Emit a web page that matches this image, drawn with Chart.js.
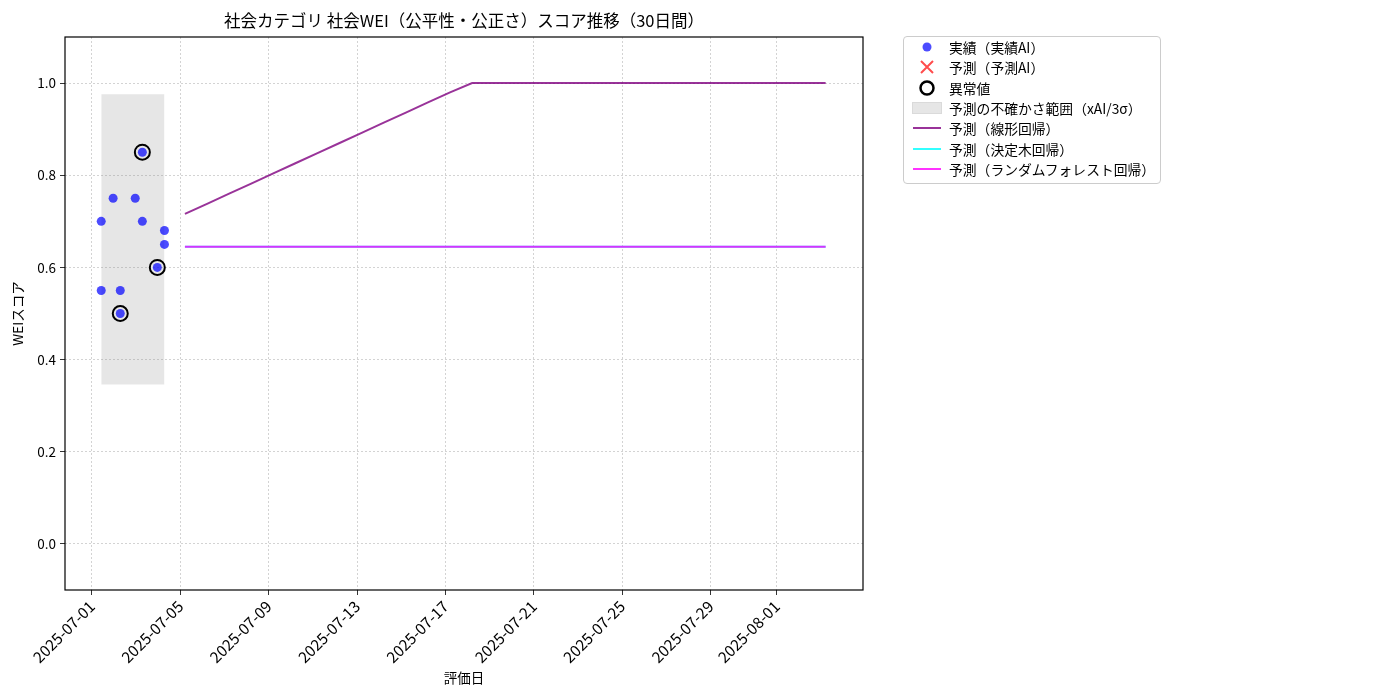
<!DOCTYPE html>
<html>
<head>
<meta charset="utf-8">
<script src="https://cdn.jsdelivr.net/npm/chart.js@4.4.1/dist/chart.umd.min.js"></script>
<style>
  body { margin: 0; background: #fff; font-family: 'Noto Sans CJK JP', 'DejaVu Sans', sans-serif; }
  #wrap { position: relative; width: 1400px; height: 700px; }
  #legend { position: absolute; left: 903px; top: 36px; width: 256px; border: 1px solid #cccccc; border-radius: 4px;
            background: #fff; padding: 0 0 4px 0; font-size: 13.8px; color: #000; }
  .row { display: flex; align-items: center; height: 20.3px; }
  .mk { width: 45px; display: flex; justify-content: center; align-items: center; }
</style>
</head>
<body>
<div id="wrap">
  <canvas id="weiChart" width="1400" height="700"></canvas>
  <div id="legend"></div>
</div>
<script>
// --- data ---
const chartTitle = '社会カテゴリ 社会WEI（公平性・公正さ）スコア推移（30日間）';

const actualDates = ['2025-07-01T10:05', '2025-07-01T10:05', '2025-07-01T23:00', '2025-07-02T06:45', '2025-07-02T06:45',
                     '2025-07-02T23:00', '2025-07-03T06:45', '2025-07-03T06:45', '2025-07-03T23:00', '2025-07-04T06:45', '2025-07-04T06:45'];
const actualVals  = [0.70, 0.55, 0.75, 0.55, 0.50, 0.75, 0.85, 0.70, 0.60, 0.68, 0.65];

const anomalyDates = ['2025-07-02T06:45', '2025-07-03T06:45', '2025-07-03T23:00'];
const anomalyVals  = [0.50, 0.85, 0.60];

const bandDates = ['2025-07-01T10:05', '2025-07-04T06:45'];
const bandUpper = [0.976, 0.976];
const bandLower = [0.346, 0.346];

const forecastDates = ['2025-07-05T05:00', '2025-07-06T05:00', '2025-07-07T05:00', '2025-07-08T05:00', '2025-07-09T05:00',
  '2025-07-10T05:00', '2025-07-11T05:00', '2025-07-12T05:00', '2025-07-13T05:00', '2025-07-14T05:00',
  '2025-07-15T05:00', '2025-07-16T05:00', '2025-07-17T05:00', '2025-07-18T05:00', '2025-07-19T05:00',
  '2025-07-20T05:00', '2025-07-21T05:00', '2025-07-22T05:00', '2025-07-23T05:00', '2025-07-24T05:00',
  '2025-07-25T05:00', '2025-07-26T05:00', '2025-07-27T05:00', '2025-07-28T05:00', '2025-07-29T05:00',
  '2025-07-30T05:00', '2025-07-31T05:00', '2025-08-01T05:00', '2025-08-02T05:00', '2025-08-03T05:00'];
const linearVals = [0.716, 0.738, 0.760, 0.782, 0.804, 0.826, 0.848, 0.870, 0.892, 0.914,
  0.936, 0.958, 0.980, 1.0, 1.0, 1.0, 1.0, 1.0, 1.0, 1.0,
  1.0, 1.0, 1.0, 1.0, 1.0, 1.0, 1.0, 1.0, 1.0, 1.0];
const treeVals = [0.645, 0.645, 0.645, 0.645, 0.645, 0.645, 0.645, 0.645, 0.645, 0.645,
  0.645, 0.645, 0.645, 0.645, 0.645, 0.645, 0.645, 0.645, 0.645, 0.645,
  0.645, 0.645, 0.645, 0.645, 0.645, 0.645, 0.645, 0.645, 0.645, 0.645];
const forestVals = [0.645, 0.645, 0.645, 0.645, 0.645, 0.645, 0.645, 0.645, 0.645, 0.645,
  0.645, 0.645, 0.645, 0.645, 0.645, 0.645, 0.645, 0.645, 0.645, 0.645,
  0.645, 0.645, 0.645, 0.645, 0.645, 0.645, 0.645, 0.645, 0.645, 0.645];

const xTickDates = ['2025-07-01', '2025-07-05', '2025-07-09', '2025-07-13', '2025-07-17',
                    '2025-07-21', '2025-07-25', '2025-07-29', '2025-08-01'];
const yTicks = [0.0, 0.2, 0.4, 0.6, 0.8, 1.0];
const xRange = ['2025-06-29T18:43', '2025-08-04T21:36'];
const yRange = [-0.1, 1.1];

// days since epoch (no date adapter available, so x is a plain linear scale)
const toDay = s => Date.parse(s.length === 10 ? s + 'T00:00Z' : s + 'Z') / 86400000;
const dayLabel = d => new Date(Math.round(d * 86400000)).toISOString().slice(0, 10);
const pts = (ds, vs) => ds.map((d, i) => ({ x: toDay(d), y: vs[i] }));

const FONT = "'Noto Sans CJK JP', 'DejaVu Sans', sans-serif";
Chart.defaults.font.family = FONT;
Chart.defaults.color = '#000';

// black box round the plot area (matplotlib spines) + title centred over the axes
const frame = {
  id: 'frame',
  afterDraw(c) {
    const a = c.chartArea, ctx = c.ctx;
    ctx.save();
    ctx.strokeStyle = '#000'; ctx.lineWidth = 1.2;
    ctx.strokeRect(a.left, a.top, a.right - a.left, a.bottom - a.top);
    ctx.fillStyle = '#000';
    ctx.font = '16.5px ' + FONT;
    ctx.textAlign = 'center'; ctx.textBaseline = 'middle';
    ctx.fillText(chartTitle, (a.left + a.right) / 2, 21);
    ctx.restore();
  }
};

const ctx = document.getElementById('weiChart').getContext('2d');
const chart = new Chart(ctx, {
  type: 'scatter',
  data: {
    datasets: [
      { label: '実績（実績AI）', data: pts(actualDates, actualVals), backgroundColor: 'rgba(0,0,255,0.7)',
        borderWidth: 0, pointRadius: 4.5, order: 2 },
      { label: '予測（予測AI）', data: [], backgroundColor: 'rgba(255,0,0,0.7)', borderColor: 'rgba(255,0,0,0.7)',
        pointStyle: 'cross', rotation: 45, pointRadius: 6, order: 2 },
      { label: '異常値', data: pts(anomalyDates, anomalyVals), backgroundColor: 'rgba(0,0,0,0)', borderColor: '#000',
        borderWidth: 2, pointRadius: 7.5, order: 1 },
      { label: '予測の不確かさ範囲（xAI/3σ）', data: pts(bandDates, bandUpper), showLine: true, borderWidth: 0,
        pointRadius: 0, backgroundColor: 'rgba(128,128,128,0.2)', fill: '+1', order: 6 },
      { label: '_band_lower', data: pts(bandDates, bandLower), showLine: true, borderWidth: 0,
        pointRadius: 0, order: 6 },
      { label: '予測（線形回帰）', data: pts(forecastDates, linearVals), showLine: true, borderColor: 'rgba(128,0,128,0.8)',
        borderWidth: 2, pointRadius: 0, order: 5 },
      { label: '予測（決定木回帰）', data: pts(forecastDates, treeVals), showLine: true, borderColor: 'rgba(0,255,255,0.8)',
        borderWidth: 2, pointRadius: 0, order: 4 },
      { label: '予測（ランダムフォレスト回帰）', data: pts(forecastDates, forestVals), showLine: true, borderColor: 'rgba(255,0,255,0.8)',
        borderWidth: 2, pointRadius: 0, order: 3 }
    ]
  },
  options: {
    responsive: false, animation: false, devicePixelRatio: 1,
    layout: { padding: { left: 0, right: 537, top: 37, bottom: 0 } },
    plugins: {
      legend: { display: false },
      tooltip: { enabled: false },
      title: { display: false }
    },
    scales: {
      x: {
        type: 'linear', min: toDay(xRange[0]), max: toDay(xRange[1]),
        afterBuildTicks: s => { s.ticks = xTickDates.map(d => ({ value: toDay(d) })); },
        afterFit: s => { s.height = 110; },
        ticks: { callback: v => dayLabel(v), minRotation: 45, maxRotation: 45, autoSkip: false,
                 font: { size: 15.5 }, color: '#000', padding: 2 },
        grid: { color: '#c8c8c8', tickColor: '#000', tickLength: 5, tickBorderDash: [], lineWidth: 0.8 },
        border: { display: false, dash: [2, 2] },
        title: { display: true, text: '評価日', font: { size: 13.5 }, color: '#000', padding: { top: 0, bottom: 14 } }
      },
      y: {
        min: yRange[0], max: yRange[1],
        afterBuildTicks: s => { s.ticks = yTicks.map(v => ({ value: v })); },
        afterFit: s => { s.width = 65; },
        ticks: { callback: v => v.toFixed(1), font: { size: 13.5 }, color: '#000', padding: 4 },
        grid: { color: '#c8c8c8', tickColor: '#000', tickLength: 5, tickBorderDash: [], lineWidth: 0.8 },
        border: { display: false, dash: [2, 2] },
        title: { display: true, text: 'WEIスコア', font: { size: 13.5 }, color: '#000', padding: { top: 10, bottom: 0 } }
      }
    }
  },
  plugins: [frame]
});

// legend as html, built from the chart's datasets
function marker(ds) {
  if (ds.label === '実績（実績AI）')
    return '<svg width="14" height="14"><circle cx="7" cy="7" r="4.5" fill="rgba(0,0,255,0.7)"/></svg>';
  if (ds.label === '予測（予測AI）')
    return '<svg width="16" height="16"><path d="M2 2L14 14M14 2L2 14" stroke="rgba(255,0,0,0.7)" stroke-width="2"/></svg>';
  if (ds.label === '異常値')
    return '<svg width="18" height="18"><circle cx="9" cy="9" r="6.5" fill="none" stroke="#000" stroke-width="2.5"/></svg>';
  if (ds.fill) return '<div style="width:28px;height:10px;background:rgba(128,128,128,0.2);border:1px solid rgba(128,128,128,0.12)"></div>';
  return '<div style="width:28px;height:2px;background:' + ds.borderColor + '"></div>';
}
document.getElementById('legend').innerHTML = chart.data.datasets
  .filter(ds => !ds.label.startsWith('_'))
  .map(ds => '<div class="row"><div class="mk">' + marker(ds) + '</div><div>' + ds.label + '</div></div>')
  .join('');
</script>
</body>
</html>
